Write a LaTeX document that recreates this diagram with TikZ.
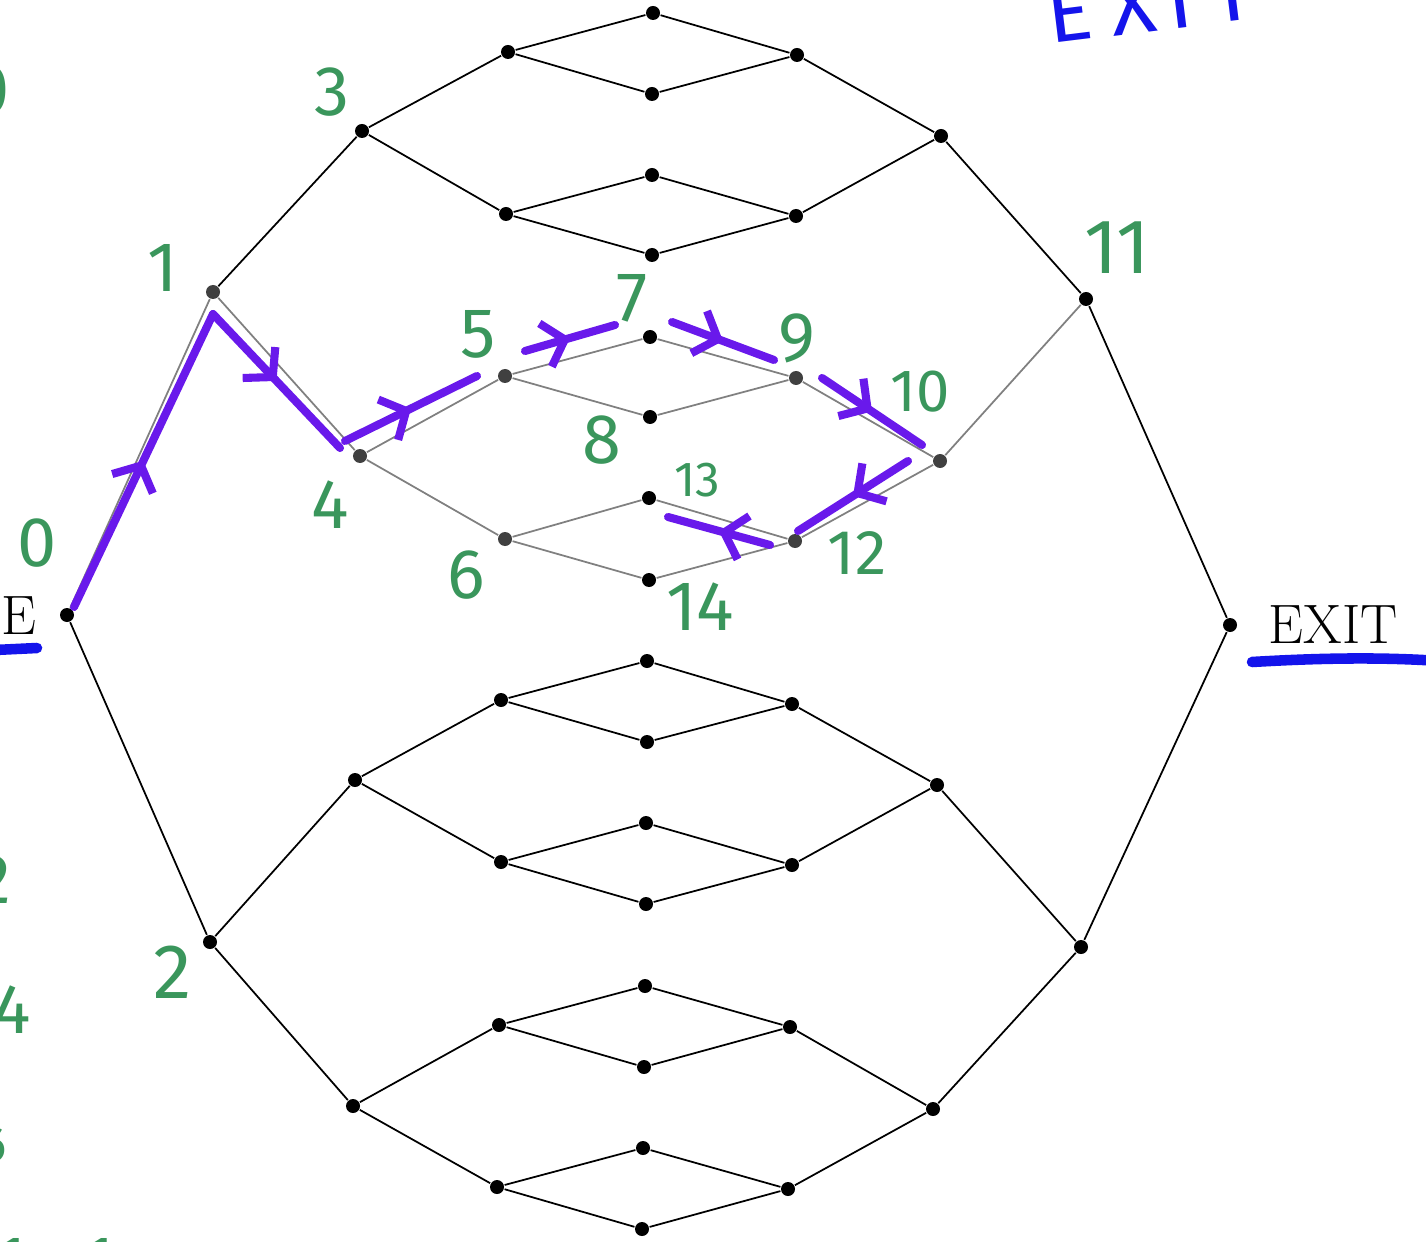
\documentclass[tikz,border=0pt]{standalone}
\usepackage{fontspec}
\newfontfamily\handfont{Fira Sans}
\usetikzlibrary{arrows.meta,positioning,decorations.markings}
\definecolor{mkgreen}{RGB}{58,150,92}
\definecolor{mkpurple}{RGB}{105,25,235}
\definecolor{mkblue}{RGB}{20,20,235}

\tikzset{
  vtx/.style={circle,fill=black,inner sep=0pt,minimum size=1.4mm},
  fade/.style={black!50},
  num/.style={text=mkgreen,font=\handfont\fontsize{20}{20}\selectfont,inner sep=0pt},
  pen/.style={draw=mkpurple,color=mkpurple,line width=2.3pt,line cap=round,postaction={decorate},
    decoration={markings,mark=at position 0.5 with {\arrow[mkpurple]{Straight Barb[length=2mm,width=4.5mm,line width=2.3pt]}}}},
}

\begin{document}
\begin{tikzpicture}[x=0.1mm,y=-0.1mm,line width=0.5pt]
  \useasboundingbox (0,0) rectangle (1426,1241);
  \clip (0,0) rectangle (1426,1241);

  % vertices
  \foreach \n/\x/\y in {ent/67/615, a2/210/942, b1/362/131, b3/355/780, b4/353/1106,
      c1/508/52, c2/506/214, c5/501/700, c6/501/862, c7/499/1025, c8/497/1187,
      m1/653/13, m2/652/94, m3/652/175, m4/652/255, m5/650/337, m6/650/417, m7/649/498, m8/649/580,
      m9/647/661, m10/647/742, m11/646/823, m12/646/904, m13/645/986, m14/644/1067, m15/643/1148, m16/642/1229,
      d1/797/55, d2/796/216, d5/792/704, d6/792/865, d7/790/1027, d8/788/1189,
      e1/941/136, e3/937/785, e4/933/1109, f1/1086/299, f2/1081/947, ex/1230/625}
    \node[vtx] (\n) at (\x,\y) {};
  \foreach \n/\x/\y in {a1/213/292, b2/360/456, c3/505/376, c4/505/539, d3/796/378, d4/795/541, e2/940/461}
    \node[vtx,fill=black!75] (\n) at (\x,\y) {};

  % edges
  \draw[fade] (ent)--(a1);
  \draw (ent)--(a2);
  \draw (a1)--(b1); \draw[fade] (a1)--(b2);
  \draw (b3)--(a2)--(b4);
  \draw (c1)--(b1)--(c2); \draw[fade] (c3)--(b2)--(c4);
  \draw (c5)--(b3)--(c6) (c7)--(b4)--(c8);
  \foreach \k in {1,2,5,6,7,8} {
    \pgfmathtruncatemacro\p{2*\k-1}\pgfmathtruncatemacro\q{2*\k}
    \draw (c\k)--(m\p)--(d\k)--(m\q)--(c\k);
  }
  \foreach \k in {3,4} {
    \pgfmathtruncatemacro\p{2*\k-1}\pgfmathtruncatemacro\q{2*\k}
    \draw[fade] (c\k)--(m\p)--(d\k)--(m\q)--(c\k);
  }
  \draw (d1)--(e1)--(d2); \draw[fade] (d3)--(e2)--(d4);
  \draw (d5)--(e3)--(d6) (d7)--(e4)--(d8);
  \draw (e1)--(f1); \draw[fade] (e2)--(f1);
  \draw (e3)--(f2)--(e4);
  \draw (f1)--(ex)--(f2);

  % printed labels
  \node[anchor=east,inner sep=0pt,font=\fontsize{15.8}{18}\selectfont] (entlbl) at ([shift={(-30,0)}]ent.center) {ENTRANCE};
  \node[anchor=west,inner sep=0pt,font=\fontsize{15.8}{18}\selectfont] (exitlbl) at ([shift={(38,0)}]ex.center) {EXIT};

  % hand annotations
  \draw[mkblue,line width=3pt,line cap=round] (-5,650) -- (37,648);
  \draw[mkblue,line width=3pt,line cap=round] (1252,662) .. controls (1320,658) and (1380,657) .. (1440,661);
  \node[text=mkblue,font=\handfont\fontsize{24}{24}\selectfont,rotate=7,anchor=base west,inner sep=0pt]
    at (1050,44) {E\hspace{1.8mm}X\hspace{1.2mm}I\hspace{1.8mm}T};

  \node[num] at ([shift={(-30,-39)}]b1) {3};
  \node[num] at ([shift={(-50,-24)}]a1) {1};
  \node[num] at ([shift={(-30,-72)}]ent) {0};
  \node[num] at ([shift={(-30,49)}]b2) {4};
  \node[num] at ([shift={(-27,-42)}]c3) {5};
  \node[num] at ([shift={(-18,-39)}]m5) {7};
  \node[num] at ([shift={(1,-40)}]d3) {9};
  \node[num,font=\handfont\fontsize{17}{17}\selectfont] at ([shift={(-20,-69)}]e2) {10};
  \node[num] at ([shift={(-48,23)}]m6) {8};
  \node[num,font=\handfont\fontsize{14}{14}\selectfont] at ([shift={(48,-18)}]m7) {13};
  \node[num,font=\handfont\fontsize{18}{18}\selectfont] at ([shift={(62,12)}]d4) {12};
  \node[num] at ([shift={(-39,36)}]c4) {6};
  \node[num] at ([shift={(51,27)}]m8) {14};
  \node[num,font=\handfont\fontsize{22}{22}\selectfont] at ([shift={(31,-51)}]f1) {11};
  \node[num,font=\handfont\fontsize{22}{22}\selectfont] at ([shift={(-37,30)}]a2) {2};
  % cut-off notes at the left edge
  \node[num] at (-10,90) {0};
  \node[num] at (-6,880) {2};
  \node[num] at (12,1010) {4};
  \node[num,font=\handfont\fontsize{14}{14}\selectfont] at (-6,1145) {6};
  \node[num] at (12,1262) {1};
  \node[num] at (100,1262) {1};
  \node[num] at (240,1275) {12};

  % route
  \draw[pen] ([shift={(7,-8)}]ent.center) -- ([shift={(0,22)}]a1.center);
  \draw[pen] ([shift={(0,22)}]a1.center) -- ([shift={(-20,-8)}]b2.center);
  \draw[pen] ([shift={(-15,-15)}]b2.center) -- ([shift={(-28,0)}]c3.center);
  \draw[pen] ([shift={(20,-25)}]c3.center) -- ([shift={(-35,-12)}]m5.center);
  \draw[pen] ([shift={(22,-15)}]m5.center) -- ([shift={(-22,-18)}]d3.center);
  \draw[pen] ([shift={(26,0)}]d3.center) -- ([shift={(-18,-16)}]e2.center);
  \draw[pen] ([shift={(-32,0)}]e2.center) -- ([shift={(3,-10)}]d4.center);
  \draw[pen] ([shift={(-25,4)}]d4.center) -- ([shift={(19,19)}]m7.center);
\end{tikzpicture}
\end{document}
